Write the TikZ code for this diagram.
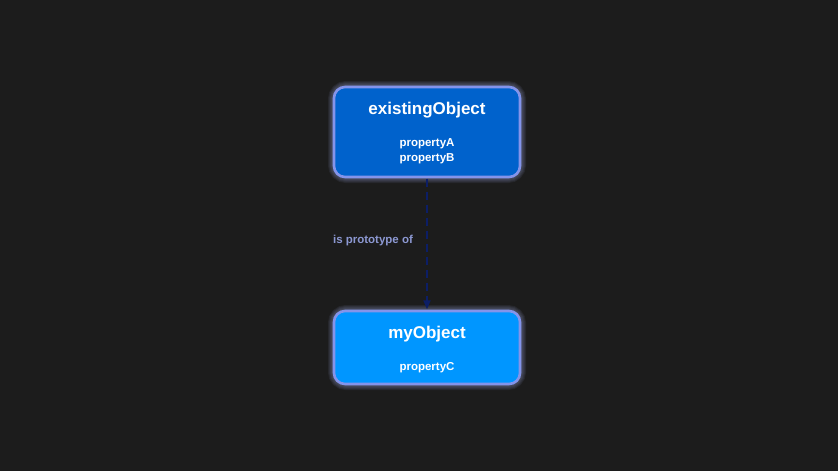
\documentclass[tikz,border=0pt]{standalone}
\usepackage{fontspec}
\setmainfont{Liberation Sans}
\usetikzlibrary{arrows.meta}
\definecolor{bg}{HTML}{1C1C1C}
\definecolor{edgeblue}{HTML}{8494EA}
\definecolor{glowc}{HTML}{A8B4F0}
\definecolor{fillA}{HTML}{0062CC}
\definecolor{fillB}{HTML}{0096FF}
\definecolor{navy}{HTML}{0C1E66}
\definecolor{lbl}{HTML}{8C98D2}
\tikzset{
  objbox/.style={draw=edgeblue, line width=2.6pt, rounded corners=11pt},
  glow/.style={draw=glowc, rounded corners=12pt, draw opacity=0.08},
  ttl/.style={text=white, font=\bfseries\fontsize{17}{20}\selectfont},
  prop/.style={text=white, font=\bfseries\fontsize{11.5}{15}\selectfont, align=center},
  linkline/.style={draw=navy, line width=1.8pt, dash pattern=on 8pt off 5pt},
}
\begin{document}
\begin{tikzpicture}[x=1pt,y=-1pt]
\fill[bg] (0,0) rectangle (838,471);
\useasboundingbox (0,0) rectangle (838,471);
% glow
\foreach \w in {4,6,8,10,12}{
  \draw[glow, line width=\w pt] (334,87) rectangle (520,177);
  \draw[glow, line width=\w pt] (334,311) rectangle (520,384);
}
\draw[objbox, fill=fillA] (334,87) rectangle (520,177);
\draw[objbox, fill=fillB] (334,311) rectangle (520,384);
\node (boxA) [minimum width=186pt, minimum height=90pt, inner sep=0pt] at (427,132) {};
\node (boxB) [minimum width=186pt, minimum height=73pt, inner sep=0pt] at (427,347.5) {};
\node (tA) [ttl] at (427,110) {existingObject};
\node (pA) [prop] at (427,151.5) {propertyA\\[0pt]propertyB};
\node (tB) [ttl] at (427,334) {myObject};
\node (pB) [prop] at (427,368) {propertyC};
\draw[linkline, -{Triangle[length=9pt,width=7pt]}] ([yshift=-1.5pt]boxA.south) -- ([yshift=1.5pt]boxB.north);
\node (lab) [text=lbl, font=\bfseries\fontsize{11.5}{13}\selectfont] at (373,241) {is prototype of};
\end{tikzpicture}
\end{document}
